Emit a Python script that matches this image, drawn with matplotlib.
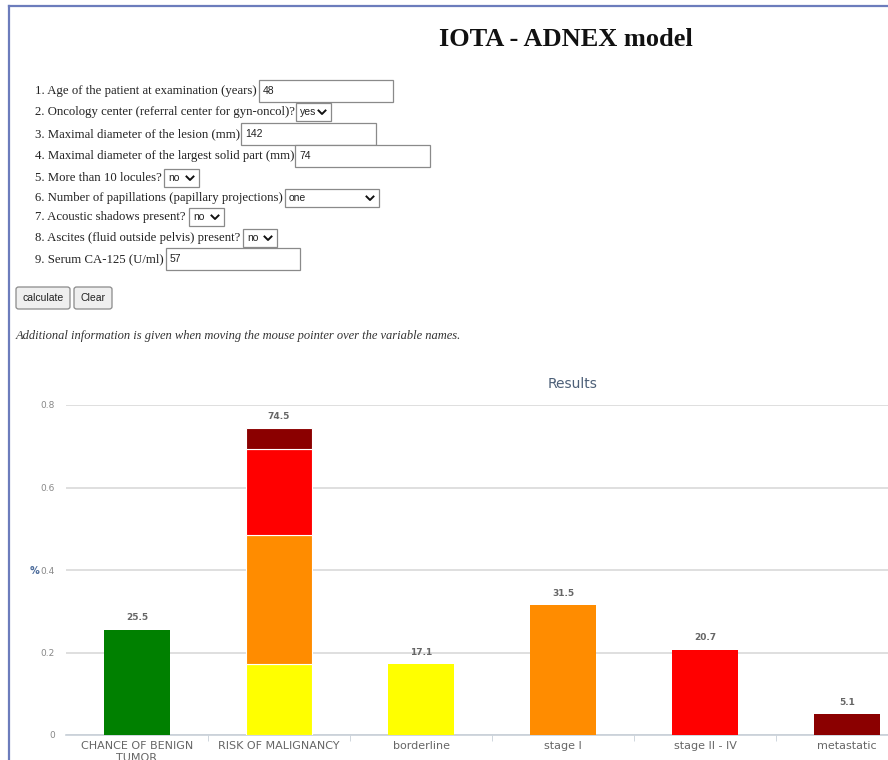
import matplotlib
matplotlib.use("Agg")
import matplotlib.pyplot as plt
from matplotlib.lines import Line2D
from matplotlib.patches import Rectangle, FancyBboxPatch

# chart data (fractions, labels in percent)
categories = ["CHANCE OF BENIGN\nTUMOR", "RISK OF MALIGNANCY", "borderline",
              "stage I", "stage II - IV", "metastatic"]
benign = 0.255
borderline = 0.171
stage_1 = 0.315
stage_2_4 = 0.207
metastatic = 0.051
value_labels = ["25.5", "74.5", "17.1", "31.5", "20.7", "5.1"]
y_ticks = [0, 0.2, 0.4, 0.6, 0.8]

# form contents
questions = [
    "1. Age of the patient at examination (years)",
    "2. Oncology center (referral center for gyn-oncol)?",
    "3. Maximal diameter of the lesion (mm)",
    "4. Maximal diameter of the largest solid part (mm)",
    "5. More than 10 locules?",
    "6. Number of papillations (papillary projections)",
    "7. Acoustic shadows present?",
    "8. Ascites (fluid outside pelvis) present?",
    "9. Serum CA-125 (U/ml)",
]
answers = ["48", "yes", "142", "74", "no", "one", "no", "no", "57"]
is_select = [False, True, False, False, True, True, True, True, False]

W, H = 888, 760
fig = plt.figure(figsize=(W / 100, H / 100), dpi=100)


def fx(x):
    return x / W


def fy(y):
    return 1 - y / H


# page border
fig.add_artist(Line2D([fx(9), 1], [fy(6), fy(6)], color="#6c7cbc", lw=1.6))
fig.add_artist(Line2D([fx(9), fx(9)], [fy(6), 0], color="#6c7cbc", lw=1.6))

fig.text(fx(566), fy(40), "IOTA - ADNEX model", family="Liberation Serif",
         weight="bold", fontsize=19, ha="center", va="center", color="#111111")

# question rows
row_y = [91, 112, 134, 156, 178, 198, 217, 238, 259]
box_x = [259, 296, 241, 295, 164, 285, 189, 243, 166]
box_w = [134, 35, 135, 135, 35, 94, 35, 34, 134]
for q, a, sel, y, bx, bw in zip(questions, answers, is_select, row_y, box_x, box_w):
    fig.text(fx(35), fy(y), q, family="Liberation Serif", fontsize=9.2,
             ha="left", va="center", color="#222222")
    bh = 22 if not sel else 18
    fig.add_artist(Rectangle((fx(bx), fy(y + bh / 2)), fx(bw), bh / H,
                             facecolor="white", edgecolor="#8a8a8a", lw=0.9))
    fig.text(fx(bx + 4), fy(y), a, family="Liberation Sans", fontsize=7.5,
             ha="left", va="center", color="#222222")
    if sel:
        cx = bx + bw - 9
        fig.add_artist(Line2D([fx(cx - 3.5), fx(cx), fx(cx + 3.5)],
                              [fy(y - 1.5), fy(y + 2), fy(y - 1.5)],
                              color="#111111", lw=1.4))

# buttons
for label, bx, bw in [("calculate", 16, 54), ("Clear", 74, 38)]:
    fig.add_artist(FancyBboxPatch((fx(bx), fy(309)), fx(bw), 22 / H,
                                  boxstyle="round,pad=0,rounding_size=0.003",
                                  facecolor="#efefef", edgecolor="#8a8a8a", lw=0.9))
    fig.text(fx(bx + bw / 2), fy(298), label, family="Liberation Sans",
             fontsize=7.5, ha="center", va="center", color="#222222")

fig.text(fx(16), fy(336),
         "Additional information is given when moving the mouse pointer over the variable names.",
         family="Liberation Serif", style="italic", fontsize=9, ha="left",
         va="center", color="#333333")

# chart
ax = fig.add_axes([fx(66), fy(735), (918 - 66) / W, (735 - 405) / H])
x = list(range(len(categories)))
ax.bar(0, benign, width=0.47, color="#008000", zorder=3)
bottom = 0
for val, col in [(borderline, "#ffff00"), (stage_1, "#ff8c00"),
                 (stage_2_4, "#ff0000"), (metastatic, "#8b0000")]:
    ax.bar(1, val, bottom=bottom, width=0.47, color=col, edgecolor="white",
           lw=0.8, zorder=3)
    bottom += val
single = [borderline, stage_1, stage_2_4, metastatic]
colors = ["#ffff00", "#ff8c00", "#ff0000", "#8b0000"]
ax.bar(x[2:], single, width=0.47, color=colors, zorder=3)

tops = [benign, bottom] + single
for xi, t, lab in zip(x, tops, value_labels):
    ax.text(xi, t + 0.018, lab, ha="center", va="bottom", fontsize=6.5,
            weight="bold", color="#666666", family="DejaVu Sans")

ax.set_xlim(-0.5, 5.5)
ax.set_ylim(0, 0.8)
ax.set_yticks(y_ticks)
ax.set_yticklabels(["0", "0.2", "0.4", "0.6", "0.8"])
ax.grid(axis="y", color="#d9d9d9", lw=1.2, zorder=0)
for s in ["top", "right", "left"]:
    ax.spines[s].set_visible(False)
ax.spines["bottom"].set_color("#c8d0d8")
ax.spines["bottom"].set_linewidth(1.2)
ax.tick_params(axis="y", length=0, pad=8, labelsize=6.5, labelcolor="#888888")
ax.set_xticks(x)
ax.set_xticklabels(categories, fontsize=8, color="#666666", linespacing=1.3)
ax.tick_params(axis="x", length=0, pad=4)
ax.set_xticks([i + 0.5 for i in x[:-1]], minor=True)
ax.tick_params(axis="x", which="minor", length=4, color="#c8d0d8")
ax.patch.set_alpha(0)

fig.text(fx(573), fy(384), "Results", fontsize=10, color="#4d6078",
         ha="center", va="center", family="DejaVu Sans")
fig.text(fx(34), fy(571), "%", fontsize=7, weight="bold", color="#4a6a9a",
         ha="center", va="center")

fig.savefig("out.png", dpi=100)
